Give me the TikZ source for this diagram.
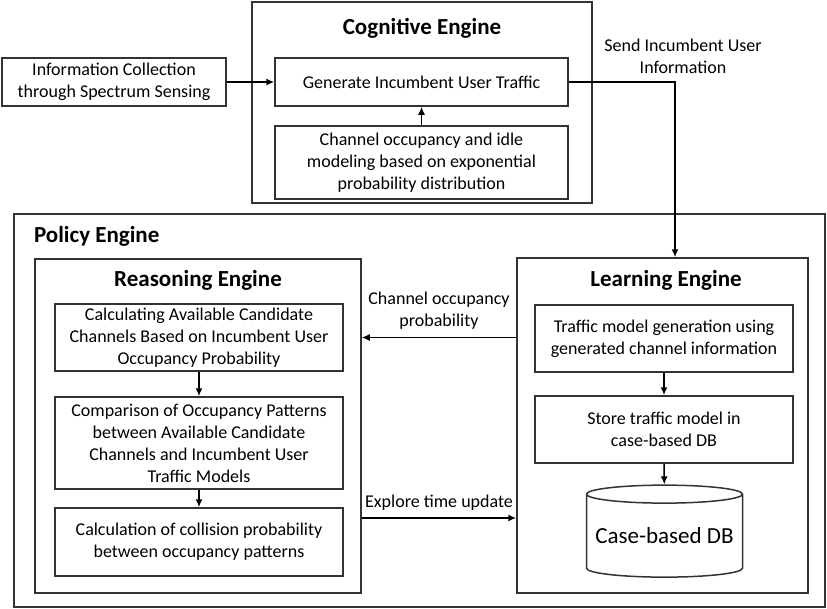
\documentclass[tikz,border=0pt]{standalone}
\usepackage{fontspec}
\setmainfont{Carlito}
\usetikzlibrary{shapes.geometric,arrows.meta}
\begin{document}
\begin{tikzpicture}[>={Latex[length=8pt,width=7pt]}, x=1pt, y=-1pt, line width=1.5pt,
    box/.style={draw=black!80, minimum width=#1, align=center, inner sep=0pt,
      font=\fontsize{18}{22}\selectfont},
    frame/.style={draw=black!80},
    ttl/.style={font=\fontsize{23}{27}\selectfont\bfseries},
    lbl/.style={align=center, font=\fontsize{18}{22}\selectfont}]
\useasboundingbox (0,0) rectangle (827,608);
\node[frame, minimum width=340pt, minimum height=201pt] (cog) at (422,102.5) {};
\node[ttl] at (422,28) {Cognitive Engine};
\node[box=224pt, minimum height=48pt] (info) at (114,82) {Information Collection\\through Spectrum Sensing};
\node[box=293pt, minimum height=48pt] (gen) at (421.5,82) {Generate Incumbent User Traffic};
\node[box=293pt, minimum height=73pt] (occ) at (421.5,162.5) {Channel occupancy and idle\\modeling based on exponential\\probability distribution};
\node[lbl] (send) at (683,56) {Send Incumbent User\\Information};
\node[frame, minimum width=811pt, minimum height=393pt] (policy) at (419.5,410.5) {};
\node[ttl, anchor=west] at (30,236) {Policy Engine};
\node[frame, minimum width=326pt, minimum height=334pt] (reason) at (198,426) {};
\node[ttl] at (198,280) {Reasoning Engine};
\node[box=288pt, minimum height=67pt] (calc) at (199,337.5) {Calculating Available Candidate\\Channels Based on Incumbent User\\Occupancy Probability};
\node[box=288pt, minimum height=92pt] (comp) at (199,443) {Comparison of Occupancy Patterns\\between Available Candidate\\Channels and Incumbent User\\Traffic Models};
\node[box=288pt, minimum height=68pt] (coll) at (199,542) {Calculation of collision probability\\between occupancy patterns};
\node[frame, minimum width=291pt, minimum height=335pt] (learn) at (662.5,425.5) {};
\node[ttl] at (666,280) {Learning Engine};
\node[box=258pt, minimum height=67pt] (tgen) at (664,338.5) {Traffic model generation using\\generated channel information};
\node[box=258pt, minimum height=67pt] (store) at (664,429.5) {Store traffic model in\\case-based DB};
\node[draw=black!80, cylinder, shape border rotate=90, aspect=0.13, minimum width=156pt, minimum height=92pt,
  inner sep=0pt, font=\fontsize{23}{27}\selectfont] (db) at (664.5,536) {Case-based DB};
\coordinate (ex) at (0,518);
\draw[->] (info) -- (gen);
\draw[->] (occ) -- (gen);
\draw[->] (gen.east) -| ([xshift=12.5pt]learn.north);
\draw[->] (learn.west |- calc) -- node[lbl, above=4pt] {Channel occupancy\\probability} (reason.east |- calc);
\draw[->] (reason.east |- ex) -- node[lbl, above=4pt] {Explore time update} (learn.west |- ex);
\draw[->] (calc) -- (comp);
\draw[->] (comp) -- (coll);
\draw[->] (tgen) -- (store);
\draw[->] (store) -- (db);
\end{tikzpicture}
\end{document}
